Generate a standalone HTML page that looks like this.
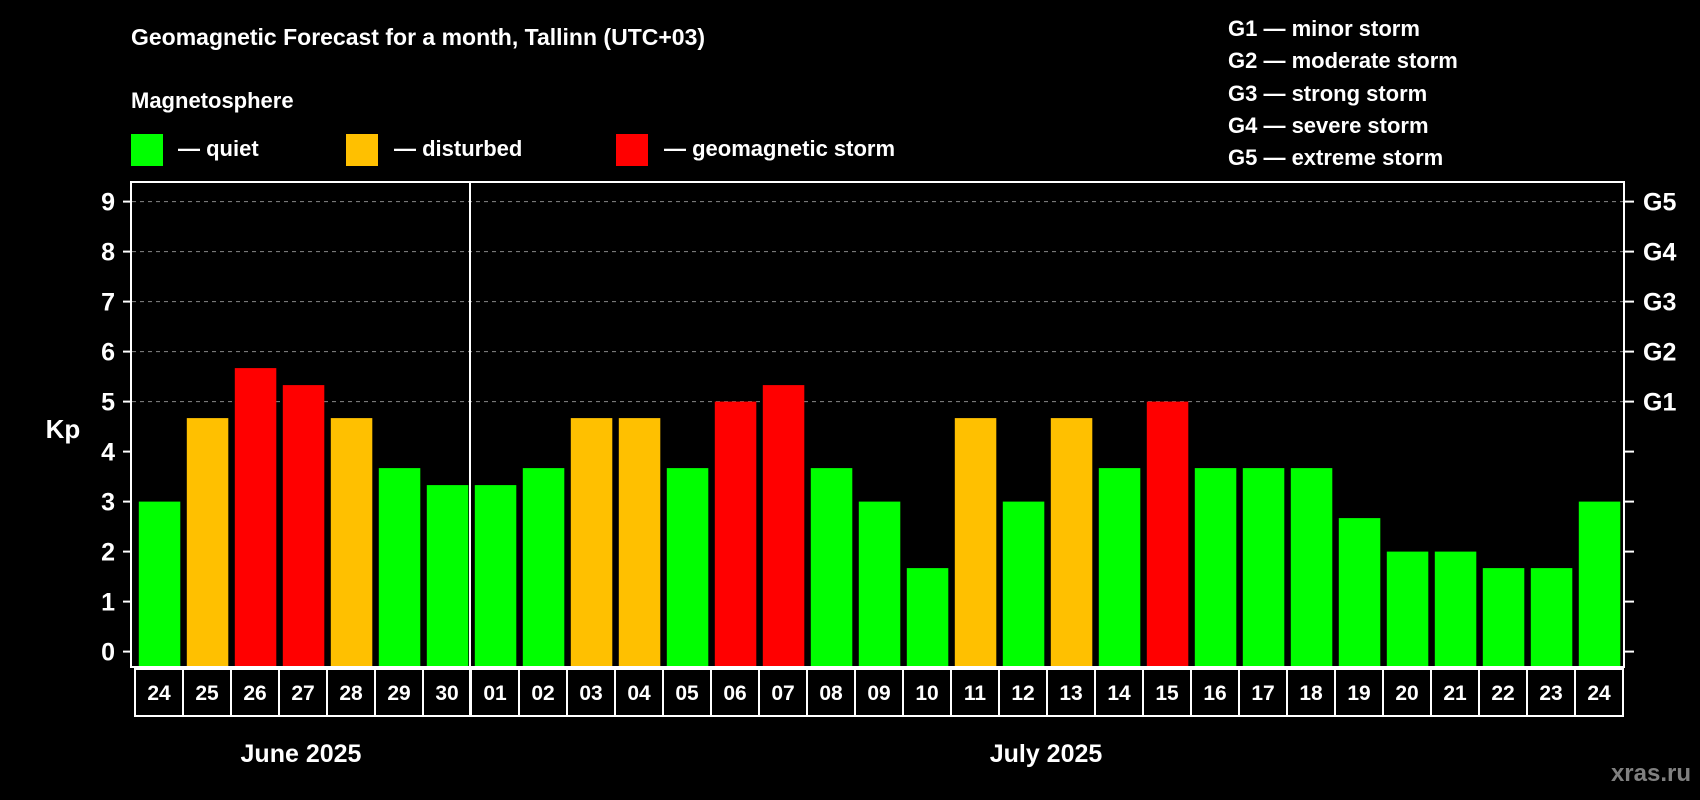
<!DOCTYPE html>
<html><head><meta charset="utf-8">
<style>
body{margin:0;background:#000;}
svg{display:block;font-family:"Liberation Sans",Arial,sans-serif;font-weight:bold;}
</style></head>
<body>
<svg id="chart" width="1700" height="800" viewBox="0 0 1700 800">
<rect width="1700" height="800" fill="#000"/>
<text x="131" y="45" fill="#fff" font-size="23">Geomagnetic Forecast for a month, Tallinn (UTC+03)</text>
<text x="131" y="108" fill="#fff" font-size="22">Magnetosphere</text>
<g><rect x="131" y="134" width="32" height="32" fill="#00ff00"/><text x="178" y="156" fill="#fff" font-size="22">— quiet</text></g>
<g><rect x="346" y="134" width="32" height="32" fill="#ffc000"/><text x="394" y="156" fill="#fff" font-size="22">— disturbed</text></g>
<g><rect x="616" y="134" width="32" height="32" fill="#ff0000"/><text x="664" y="156" fill="#fff" font-size="22">— geomagnetic storm</text></g>
<g fill="#fff" font-size="22">
<text x="1228" y="36">G1 — minor storm</text>
<text x="1228" y="68">G2 — moderate storm</text>
<text x="1228" y="101">G3 — strong storm</text>
<text x="1228" y="133">G4 — severe storm</text>
<text x="1228" y="165">G5 — extreme storm</text>
</g>
<text x="63" y="438" fill="#fff" font-size="26" text-anchor="middle">Kp</text>
<g id="grid"></g>
<g id="bars"></g>
<rect x="131" y="182" width="1493" height="485" fill="none" stroke="#fff" stroke-width="2"/>
<line x1="470" y1="182" x2="470" y2="716" stroke="#fff" stroke-width="2"/>
<g id="axes"></g>
<text x="301" y="762" fill="#fff" font-size="25" text-anchor="middle">June 2025</text>
<text x="1046" y="762" fill="#fff" font-size="25" text-anchor="middle">July 2025</text>
<text x="1691" y="781" fill="#808080" font-size="24" text-anchor="end">xras.ru</text>
</svg>
<script>
const days = ["24","25","26","27","28","29","30","01","02","03","04","05","06","07","08","09","10","11","12","13","14","15","16","17","18","19","20","21","22","23","24"];
const kpValues = [3,4.67,5.67,5.33,4.67,3.67,3.33,3.33,3.67,4.67,4.67,3.67,5,5.33,3.67,3,1.67,4.67,3,4.67,3.67,5,3.67,3.67,3.67,2.67,2,2,1.67,1.67,3];
const yTicks = [0,1,2,3,4,5,6,7,8,9];
const gLabels = ["G1","G2","G3","G4","G5"];
const gLevels = [5,6,7,8,9];

const NS="http://www.w3.org/2000/svg";
const y0=651.6, unit=50, x0=138.8, pitch=48, bw=41.5;
function yScale(v){return y0-v*unit;}
function xScale(i){return x0+i*pitch;}
function mk(t,attrs,parent){const e=document.createElementNS(NS,t);for(const k in attrs)e.setAttribute(k,attrs[k]);parent.appendChild(e);return e;}
const grid=document.getElementById('grid'),bars=document.getElementById('bars'),axes=document.getElementById('axes');
gLevels.forEach((lv,i)=>{
  const l=mk('line',{x1:132,x2:1623,y1:yScale(lv),y2:yScale(lv),stroke:'#888','stroke-dasharray':'4,4','stroke-width':1},grid);
  
  
  const t=mk('text',{x:1643,y:yScale(lv)+9,fill:'#fff','font-size':25},axes);
  t.textContent=gLabels[i];
  
  
});
yTicks.forEach(v=>{
  const y=yScale(v);
  const l=mk('line',{x1:123,x2:131,y1:y,y2:y,stroke:'#fff','stroke-width':2},axes);
  
  
  const r=mk('line',{x1:1624,x2:1634,y1:y,y2:y,stroke:'#fff','stroke-width':2},axes);
  
  
  const t=mk('text',{x:115,y:y+9,fill:'#fff','font-size':25,'text-anchor':'end'},axes);
  t.textContent=v;
  
  
});
kpValues.forEach((v,i)=>{
  const c=v>=5?'#ff0000':(v>=4?'#ffc000':'#00ff00');
  const r=mk('rect',{x:xScale(i),y:yScale(v),width:bw,height:666-yScale(v),fill:c},bars);
  
  
  const bx=135+i*pitch;
  const b=mk('rect',{x:bx,y:669,width:pitch,height:47,fill:'none',stroke:'#fff','stroke-width':2},axes);
  
  
  const t=mk('text',{x:bx+pitch/2,y:700,fill:'#fff','font-size':21,'text-anchor':'middle'},axes);
  t.textContent=days[i];
  
  
});
</script>
</body></html>
